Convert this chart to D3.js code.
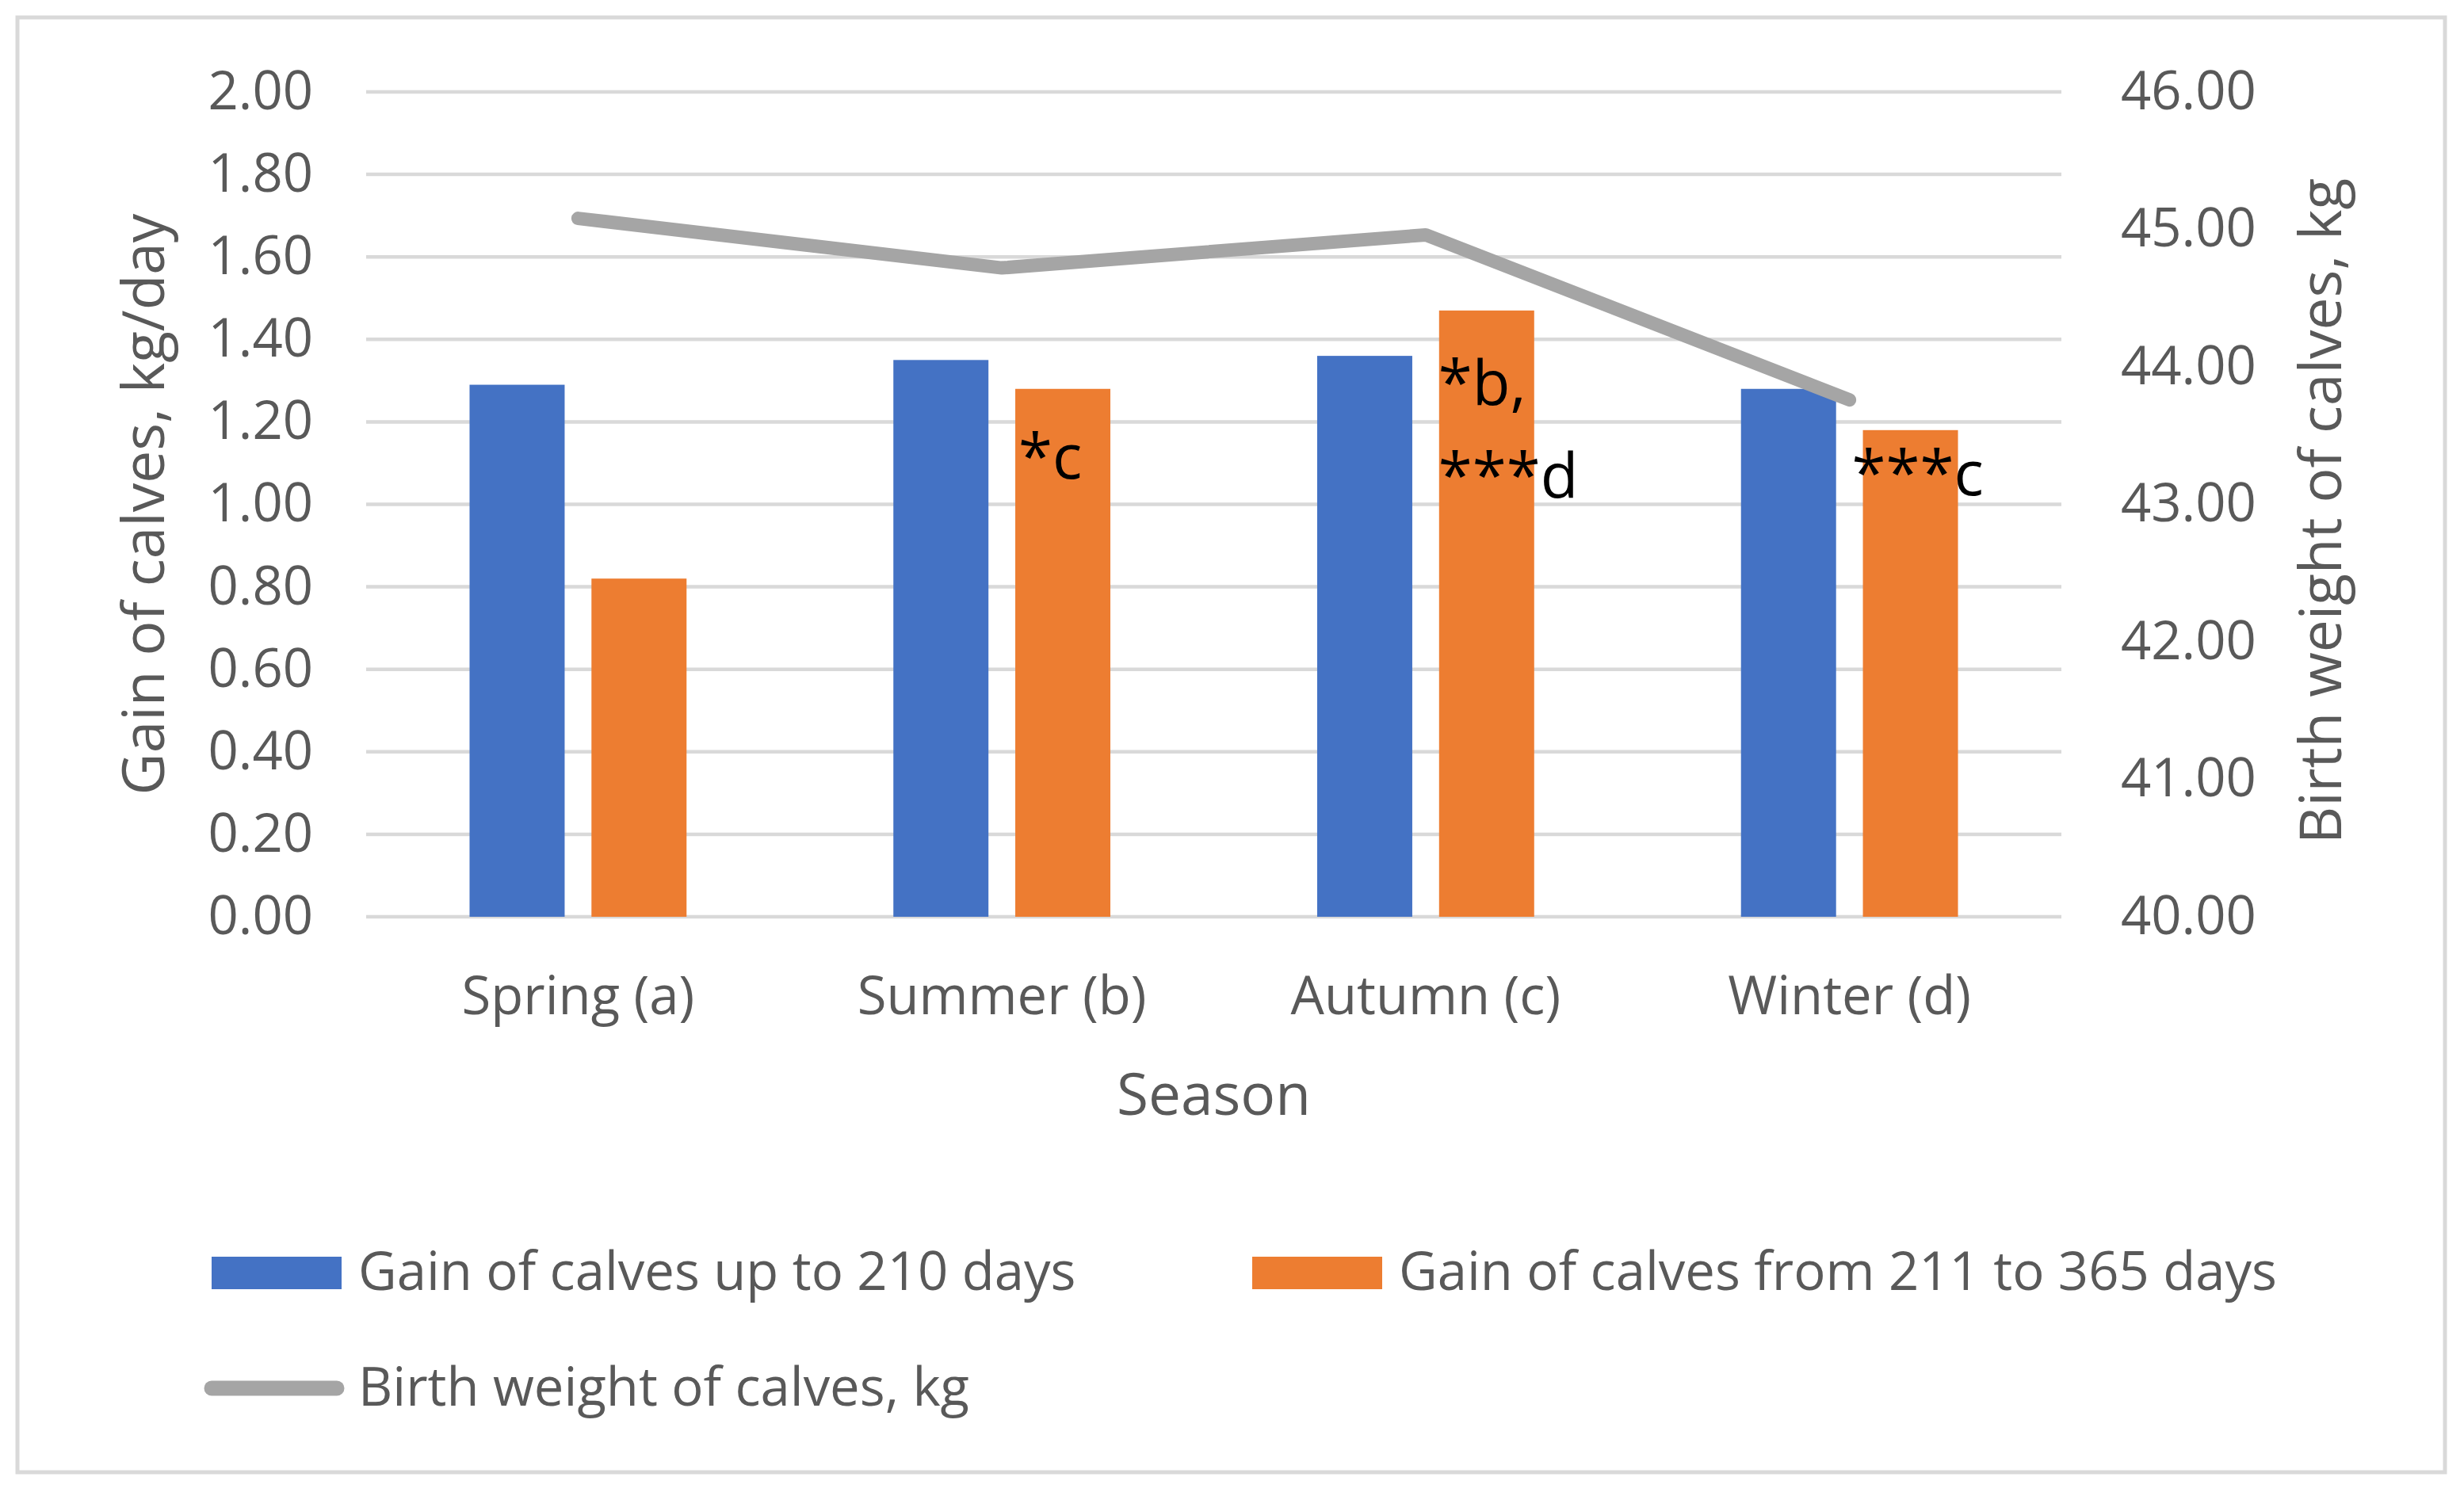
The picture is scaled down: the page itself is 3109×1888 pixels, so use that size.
<!DOCTYPE html>
<html>
<head>
<meta charset="utf-8">
<script src="https://cdn.jsdelivr.net/npm/d3@7"></script>
<style>
  html, body { margin: 0; padding: 0; background: #fff; }
  text { font-family: "Open Sans", sans-serif; }
</style>
</head>
<body>
<div id="chart"></div>
<script>
// data
const seasons = ["Spring (a)", "Summer (b)", "Autumn (c)", "Winter (d)"];
const gainTo210 = [1.29, 1.35, 1.36, 1.28];
const gain211to365 = [0.82, 1.28, 1.47, 1.18];
const birthWeight = [45.08, 44.72, 44.96, 43.76];
const leftTicks = [0, 0.2, 0.4, 0.6, 0.8, 1.0, 1.2, 1.4, 1.6, 1.8, 2.0];
const rightTicks = [40, 41, 42, 43, 44, 45, 46];
const seriesNames = ["Gain of calves up to 210 days", "Gain of calves from 211 to 365 days", "Birth weight of calves, kg"];
// significance notes put on the orange bars
const notes = [
    { season: "Summer (b)", lines: ["*c"] },
    { season: "Autumn (c)", lines: ["*b,", "***d"] },
    { season: "Winter (d)", lines: ["***c"] }
];

const W = 3109, H = 1888;
const colors = { blue: "#4472C4", orange: "#ED7D31", gray: "#A5A5A5", grid: "#D9D9D9", text: "#595959" };
const plot = { left: 462, right: 2601, top: 116, bottom: 1157 };
// hand placed text boxes in the original (dx from bar left, dy from bar top)
const noteOffsets = { "Summer (b)": [4, 113], "Autumn (c)": [-1, 119], "Winter (d)": [-14, 82] };
const noteLineGap = 117;

const svg = d3.select("#chart").append("svg")
    .attr("width", W).attr("height", H);

// chart border
svg.append("rect")
    .attr("x", 22).attr("y", 22)
    .attr("width", 3063).attr("height", 1836)
    .attr("fill", "#fff")
    .attr("stroke", colors.grid).attr("stroke-width", 5);

const x0 = d3.scaleBand().domain(seasons)
    .range([plot.left, plot.right])
    .paddingInner(0.488).paddingOuter(0.244);
const x1 = d3.scaleBand().domain([0, 1])
    .range([0, x0.bandwidth()])
    .paddingInner(0.22);
const yL = d3.scaleLinear().domain([0, 2]).range([plot.bottom, plot.top]);
const yR = d3.scaleLinear().domain([40, 46]).range([plot.bottom, plot.top]);

// gridlines
svg.append("g").selectAll("line").data(leftTicks).join("line")
    .attr("x1", plot.left).attr("x2", plot.right)
    .attr("y1", d => yL(d)).attr("y2", d => yL(d))
    .attr("stroke", colors.grid).attr("stroke-width", 4.5);

// bars
const barData = [];
seasons.forEach((s, i) => {
    barData.push({ season: s, k: 0, v: gainTo210[i], c: colors.blue });
    barData.push({ season: s, k: 1, v: gain211to365[i], c: colors.orange });
});
svg.append("g").selectAll("rect").data(barData).join("rect")
    .attr("x", d => x0(d.season) + x1(d.k))
    .attr("width", x1.bandwidth())
    .attr("y", d => yL(d.v))
    .attr("height", d => yL(0) - yL(d.v))
    .attr("fill", d => d.c);

// line on the secondary axis
const line = d3.line()
    .x((d, i) => x0(seasons[i]) + x0.bandwidth() / 2)
    .y(d => yR(d));
svg.append("path").datum(birthWeight)
    .attr("d", line)
    .attr("fill", "none")
    .attr("stroke", colors.gray).attr("stroke-width", 17)
    .attr("stroke-linecap", "round").attr("stroke-linejoin", "round");

// notes
const noteG = svg.append("g");
notes.forEach(n => {
    const i = seasons.indexOf(n.season);
    const off = noteOffsets[n.season];
    const bx = x0(n.season) + x1(1);
    const by = yL(gain211to365[i]);
    const t = noteG.append("text")
        .attr("x", bx + off[0]).attr("y", by + off[1])
        .attr("font-size", 78).attr("fill", "#000");
    n.lines.forEach((l, j) => {
        t.append("tspan").attr("x", bx + off[0]).attr("dy", j === 0 ? 0 : noteLineGap).text(l);
    });
});

// axes
const fmt = d3.format(".2f");
const axL = svg.append("g").attr("transform", `translate(${plot.left},0)`)
    .call(d3.axisLeft(yL).tickValues(leftTicks).tickFormat(fmt).tickSize(0).tickPadding(67));
const axR = svg.append("g").attr("transform", `translate(${plot.right},0)`)
    .call(d3.axisRight(yR).tickValues(rightTicks).tickFormat(fmt).tickSize(0).tickPadding(75));
const axB = svg.append("g").attr("transform", `translate(0,${plot.bottom})`)
    .call(d3.axisBottom(x0).tickSize(0).tickPadding(75));
[axL, axR, axB].forEach(a => {
    a.select(".domain").remove();
    a.selectAll("text")
        .attr("font-family", "Open Sans, sans-serif")
        .attr("font-size", 67)
        .attr("fill", colors.text);
});

// axis titles
svg.append("text")
    .attr("transform", `translate(207,${(plot.top + plot.bottom) / 2}) rotate(-90)`)
    .attr("text-anchor", "middle")
    .attr("font-size", 73).attr("fill", colors.text)
    .text("Gain of calves, kg/day");
svg.append("text")
    .attr("transform", `translate(2954,645) rotate(-90)`)
    .attr("text-anchor", "middle")
    .attr("font-size", 73).attr("fill", colors.text)
    .text("Birth weight of calves, kg");
svg.append("text")
    .attr("x", (plot.left + plot.right) / 2).attr("y", 1407)
    .attr("text-anchor", "middle")
    .attr("font-size", 73).attr("fill", colors.text)
    .text("Season");

// legend
const legend = svg.append("g");
const items = [
    { name: seriesNames[0], type: "rect", c: colors.blue, x: 267, y: 1606 },
    { name: seriesNames[1], type: "rect", c: colors.orange, x: 1580, y: 1606 },
    { name: seriesNames[2], type: "line", c: colors.gray, x: 267, y: 1752 }
];
items.forEach(it => {
    if (it.type === "rect") {
        legend.append("rect")
            .attr("x", it.x).attr("y", it.y - 20)
            .attr("width", 164).attr("height", 41)
            .attr("fill", it.c);
    } else {
        legend.append("line")
            .attr("x1", it.x).attr("x2", it.x + 158)
            .attr("y1", it.y).attr("y2", it.y)
            .attr("stroke", it.c).attr("stroke-width", 19)
            .attr("stroke-linecap", "round");
    }
    legend.append("text")
        .attr("x", it.x + 185).attr("y", it.y + 22)
        .attr("font-size", 67).attr("fill", colors.text)
        .text(it.name);
});
</script>
</body>
</html>
